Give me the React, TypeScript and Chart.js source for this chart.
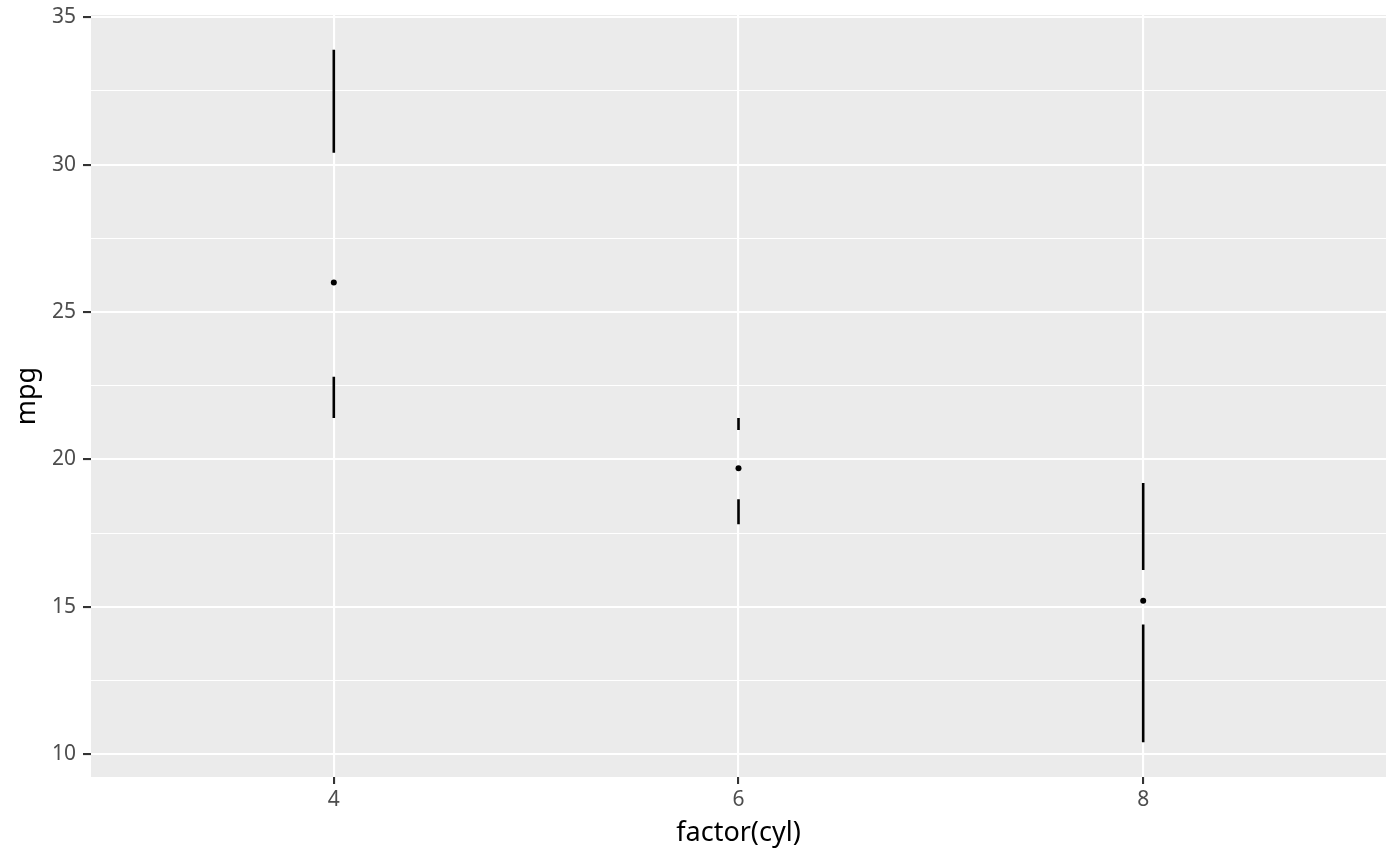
import React, { useEffect, useRef } from 'react';
import Chart from 'chart.js/auto';

// mtcars mpg by factor(cyl), tufte-style boxplot
const categories = ['4', '6', '8'];
const mins = [21.4, 17.8, 10.4];
const q1s = [22.8, 18.65, 14.4];
const medians = [26.0, 19.7, 15.2];
const q3s = [30.4, 21.0, 16.25];
const maxs = [33.9, 21.4, 19.2];
const yTicks = [10, 12.5, 15, 17.5, 20, 22.5, 25, 27.5, 30, 32.5, 35];

const FONT = "'Noto Sans', 'Open Sans', sans-serif";

const panelBg = {
  id: 'panelBg',
  beforeDraw(chart: any) {
    const { ctx, chartArea: a } = chart;
    ctx.save();
    ctx.fillStyle = '#EBEBEB';
    ctx.fillRect(a.left, a.top, a.right - a.left, a.bottom - a.top);
    ctx.restore();
  },
};

const segments = (lo: number[], hi: number[]) => {
  const pts: { x: number; y: number | null }[] = [];
  categories.forEach((_, i) => {
    pts.push({ x: i + 1, y: lo[i] });
    pts.push({ x: i + 1, y: hi[i] });
    pts.push({ x: i + 1, y: null });
  });
  return pts;
};

const App: React.FC = () => {
  const canvasRef = useRef<HTMLCanvasElement>(null);
  const chartRef = useRef<Chart | null>(null);

  useEffect(() => {
    if (!canvasRef.current) return;
    if (chartRef.current) chartRef.current.destroy();
    const isMajor = (v: number) => Math.abs(v % 5) < 1e-9;

    chartRef.current = new Chart(canvasRef.current, {
      type: 'line',
      data: {
        datasets: [
          {
            label: 'upper',
            data: segments(q3s, maxs),
            borderColor: '#000',
            borderWidth: 2.6,
            pointRadius: 0,
            spanGaps: false,
          },
          {
            label: 'lower',
            data: segments(mins, q1s),
            borderColor: '#000',
            borderWidth: 2.6,
            pointRadius: 0,
            spanGaps: false,
          },
          {
            label: 'median',
            data: medians.map((m, i) => ({ x: i + 1, y: m })),
            showLine: false,
            pointRadius: 3,
            pointBackgroundColor: '#000',
            pointBorderWidth: 0,
          },
        ],
      },
      options: {
        animation: false,
        responsive: false,
        layout: { padding: { top: 15, right: 14, left: 0, bottom: 0 } },
        plugins: { legend: { display: false }, tooltip: { enabled: false } },
        scales: {
          x: {
            type: 'linear',
            min: 0.4,
            max: 3.6,
            afterBuildTicks: (s: any) => {
              s.ticks = categories.map((_, i) => ({ value: i + 1 }));
            },
            afterFit: (s: any) => {
              s.height = 89;
              s.paddingLeft = 0;
              s.paddingRight = 0;
            },
            border: { display: false },
            grid: {
              color: '#FFFFFF',
              lineWidth: 2.1,
              tickColor: '#333333',
              tickLength: 7,
              tickWidth: 2.1,
            },
            ticks: {
              color: '#4D4D4D',
              font: { family: FONT, size: 21 },
              padding: 3,
              maxRotation: 0,
              callback: (v: any) => categories[Math.round(Number(v)) - 1] ?? '',
            },
            title: {
              display: true,
              text: 'factor(cyl)',
              color: '#000',
              font: { family: FONT, size: 27 },
              padding: { top: 2, bottom: 16 },
            },
          },
          y: {
            type: 'linear',
            min: 9.225,
            max: 35.075,
            afterBuildTicks: (s: any) => {
              s.ticks = yTicks.map((v) => ({ value: v }));
            },
            afterFit: (s: any) => {
              s.width = 91;
              s.paddingTop = 0;
              s.paddingBottom = 0;
            },
            border: { display: false },
            grid: {
              color: '#FFFFFF',
              lineWidth: (c: any) => (isMajor(c.tick?.value ?? 0) ? 2.1 : 1.1),
              tickColor: (c: any) => (isMajor(c.tick?.value ?? 0) ? '#333333' : 'rgba(0,0,0,0)'),
              tickLength: 8,
              tickWidth: 2.1,
            },
            ticks: {
              color: '#4D4D4D',
              font: { family: FONT, size: 21 },
              padding: 7,
              callback: (v: any) => (isMajor(Number(v)) ? String(v) : ''),
            },
            title: {
              display: true,
              text: 'mpg',
              color: '#000',
              font: { family: FONT, size: 27 },
              padding: { top: 11, bottom: 4 },
            },
          },
        },
      },
      plugins: [panelBg],
    });

    return () => {
      if (chartRef.current) {
        chartRef.current.destroy();
        chartRef.current = null;
      }
    };
  }, []);

  return (
    <div style={{ position: 'absolute', left: 0, top: 0, width: 1400, height: 866, background: '#fff' }}>
      <canvas ref={canvasRef} width={1400} height={866} style={{ width: 1400, height: 866 }} />
    </div>
  );
};

export default App;
